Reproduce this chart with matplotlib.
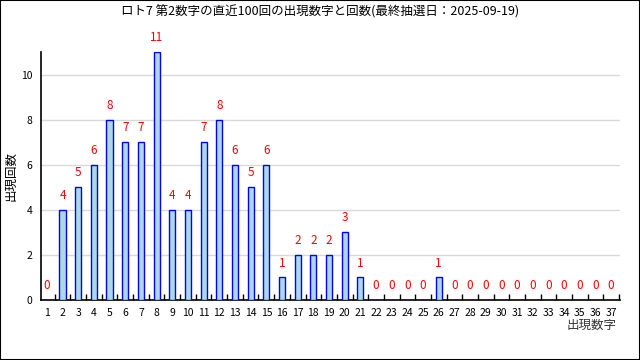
import numpy as np
import matplotlib.pyplot as plt

plt.rcParams['font.family'] = ['Noto Sans CJK JP', 'DejaVu Sans']

numbers = list(range(1, 38))
counts = [0, 4, 5, 6, 8, 7, 7, 11, 4, 4, 7, 8, 6, 5, 6, 1, 2, 2, 2, 3, 1,
          0, 0, 0, 0, 1, 0, 0, 0, 0, 0, 0, 0, 0, 0, 0, 0]

fig = plt.figure(figsize=(6.4, 3.6), dpi=100)
ax = fig.add_axes([41/640, 60/360, 579/640, 248/360])

ax.bar(numbers, counts, width=0.4, color='#add8e6', edgecolor='#0000ff', linewidth=1.0, zorder=3)
for n, c in zip(numbers, counts):
    ax.text(n, c + 0.35, str(c), ha='center', va='bottom', color='red', fontsize=8.5)

ax.set_xlim(0.62, 37.57)
ax.set_ylim(0, 11)
ax.set_yticks([0, 2, 4, 6, 8, 10])
ax.set_xticks(numbers)
ax.set_xticks(np.arange(1.5, 38, 1), minor=True)
ax.tick_params(axis='x', which='major', length=0, labelsize=7.5, pad=6)
ax.tick_params(axis='x', which='minor', direction='in', length=4, width=1)
ax.tick_params(axis='y', length=0, labelsize=7.5, pad=6)
ax.grid(axis='y', color='#d9d9d9', linewidth=1, zorder=0)
ax.spines['top'].set_visible(False)
ax.spines['right'].set_visible(False)
ax.spines['left'].set_linewidth(1.2)
ax.spines['bottom'].set_linewidth(1.2)

fig.text(11/640, 1 - 176/360, '出現回数', rotation=90, ha='center', va='center', fontsize=9)
fig.text(617/640, 1 - 325/360, '出現数字', ha='right', va='center', fontsize=9, color='#333333')
fig.text(0.5, 1 - 12/360, 'ロト7 第2数字の直近100回の出現数字と回数(最終抽選日：2025-09-19)', ha='center', va='center', fontsize=9)

fig.patches.append(plt.Rectangle((0, 0), 1, 1, transform=fig.transFigure, fill=False, edgecolor='black', linewidth=1.5))

fig.savefig('out.png', dpi=100)
